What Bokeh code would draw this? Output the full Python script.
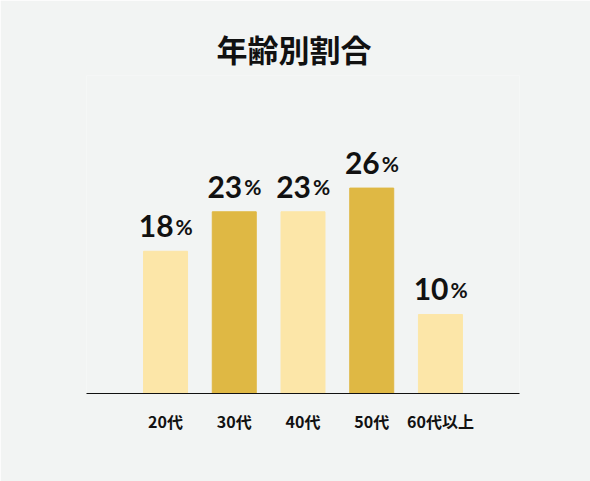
from bokeh.plotting import figure
from bokeh.models import ColumnDataSource, FactorRange, Range1d
from bokeh.core.properties import value
from bokeh.embed import file_html
from bokeh.resources import INLINE

categories = ["20代", "30代", "40代", "50代", "60代以上"]
shares = [18, 23, 23, 26, 10]
bar_colors = ["#fce6a8", "#dfb844", "#fce6a8", "#dfb844", "#fce6a8"]
title_text = "年齢別割合"

BG = "#f2f4f3"

src = ColumnDataSource(dict(
    cat=categories,
    val=shares,
    num=[str(v) for v in shares],
    pct=["%"] * len(shares),
    color=bar_colors,
))

p = figure(
    width=590, height=481,
    x_range=FactorRange(factors=categories, range_padding=0.26, range_padding_units="percent"),
    y_range=Range1d(0, 40.25),
    output_backend="svg", toolbar_location=None,
    background_fill_color=BG, border_fill_color=BG,
    min_border_left=86, min_border_right=71, min_border_bottom=88, min_border_top=75,
    outline_line_color=None,
)

p.title.text = title_text
p.title.align = "left"
p.title.offset = 130
p.title.text_font = "Noto Sans CJK JP"
p.title.text_font_size = "31px"
p.title.text_font_style = "bold"
p.title.text_color = "#111111"

p.vbar(x="cat", top="val", width=0.64, color="color", source=src)

p.text(x="cat", y="val", text="num", source=src, x_offset=8, y_offset=-25,
       text_align="right", text_baseline="alphabetic",
       text_font=value("Lato"), text_font_style="bold", text_font_size="30px",
       text_color="#111111")
p.text(x="cat", y="val", text="pct", source=src, x_offset=10, y_offset=-25,
       text_align="left", text_baseline="alphabetic",
       text_font=value("Lato"), text_font_style="bold", text_font_size="21px",
       text_color="#111111")

p.yaxis.visible = False
p.xgrid.visible = False
p.ygrid.visible = False
p.xaxis.axis_line_color = "#111111"
p.xaxis.axis_line_width = 1
p.xaxis.major_tick_line_color = None
p.xaxis.minor_tick_line_color = None
p.xaxis.major_label_standoff = 9
p.xaxis.major_label_text_font = "Noto Sans CJK JP"
p.xaxis.major_label_text_font_style = "bold"
p.xaxis.major_label_text_font_size = "16px"
p.xaxis.major_label_text_color = "#111111"

html = file_html(p, INLINE)
html = html.replace("<body>", '<body style="background:%s">' % BG, 1)
open("out.html", "w").write(html)
